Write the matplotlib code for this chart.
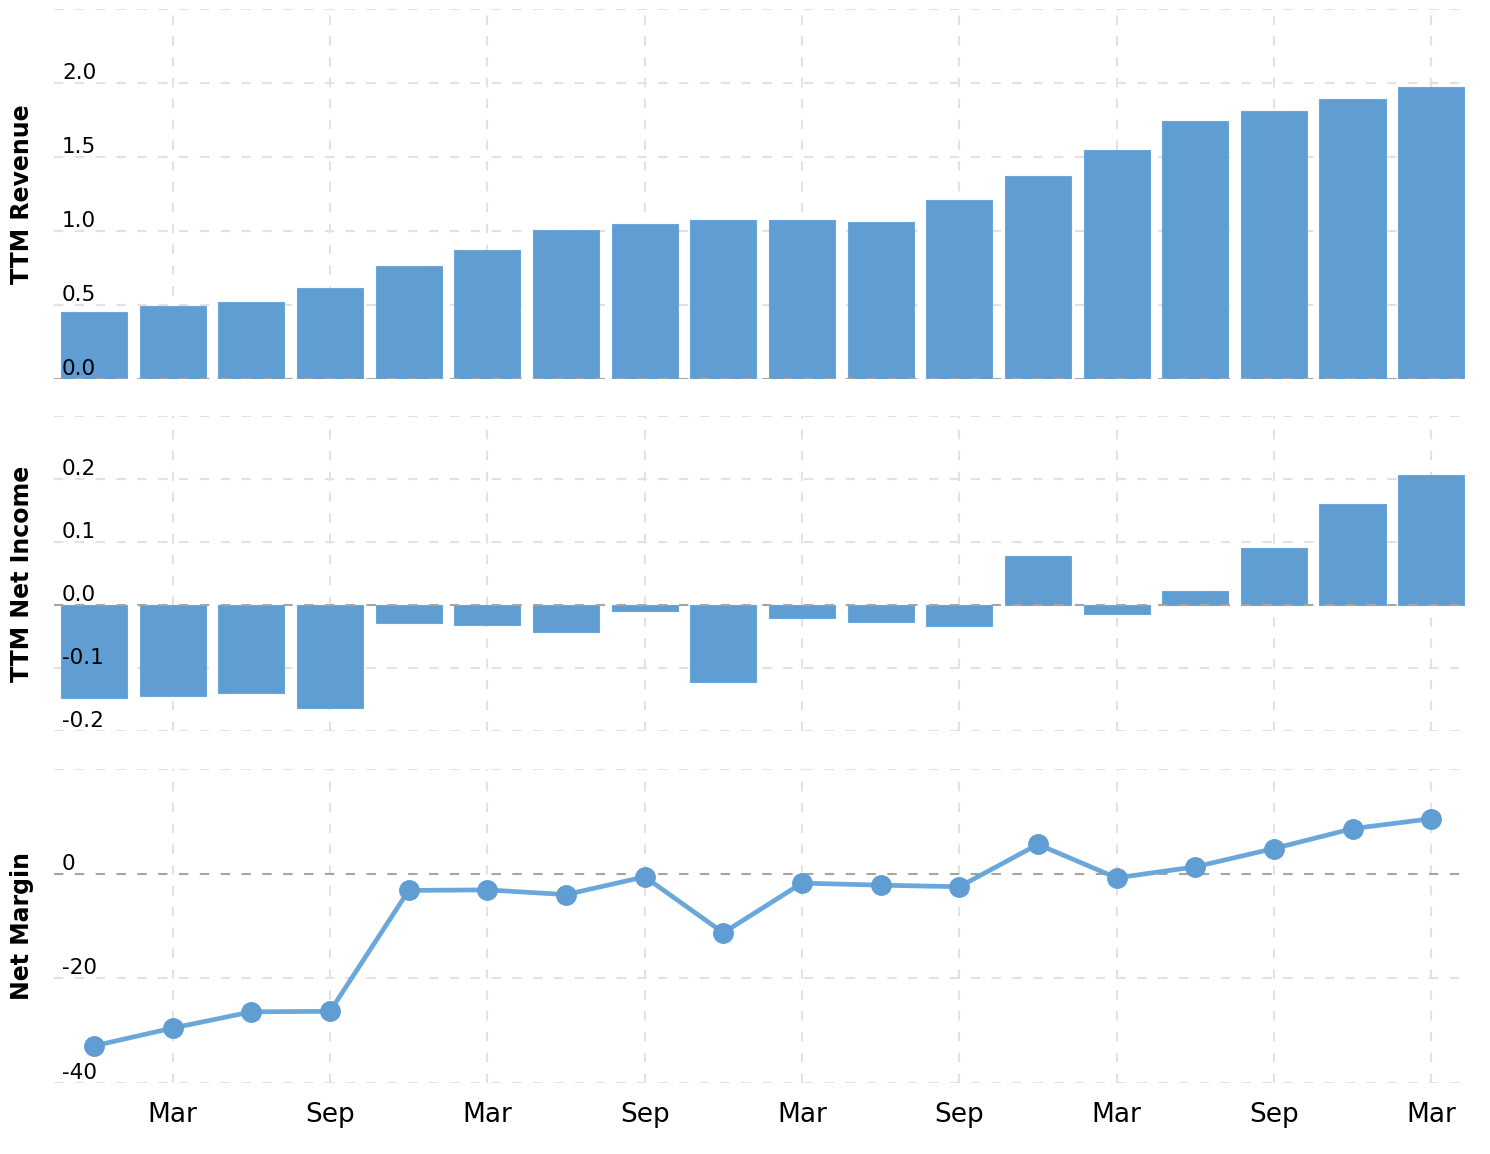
"""Quarterly TTM revenue, net income and net margin (three stacked panels)"""
import matplotlib
matplotlib.use("Agg")
import matplotlib.pyplot as plt
import matplotlib.transforms as mtransforms
import numpy as np

plt.rcParams["font.family"] = ["DejaVu Sans"]

# quarter-end months, Dec ... Mar (18 quarters)
quarters = ["Dec", "Mar", "Jun", "Sep", "Dec", "Mar", "Jun", "Sep", "Dec",
            "Mar", "Jun", "Sep", "Dec", "Mar", "Jun", "Sep", "Dec", "Mar"]
revenue = [0.452, 0.494, 0.519, 0.614, 0.762, 0.870, 1.005, 1.045, 1.072,
           1.072, 1.058, 1.207, 1.369, 1.544, 1.746, 1.814, 1.895, 1.976]
net_income = [-0.148, -0.145, -0.139, -0.163, -0.028, -0.031, -0.043, -0.009,
              -0.122, -0.021, -0.027, -0.034, 0.077, -0.014, 0.023, 0.090,
              0.160, 0.207]
net_margin = [-32.9, -29.5, -26.4, -26.3, -3.2, -3.1, -4.0, -0.6, -11.3,
              -1.8, -2.2, -2.5, 5.6, -0.8, 1.3, 4.8, 8.6, 10.5]

rev_ticks = [0.0, 0.5, 1.0, 1.5, 2.0, 2.5]
rev_labels = ["0.0", "0.5", "1.0", "1.5", "2.0", ""]
ni_ticks = [-0.2, -0.1, 0.0, 0.1, 0.2, 0.3]
ni_labels = ["-0.2", "-0.1", "0.0", "0.1", "0.2", ""]
nm_ticks = [-40, -20, 0, 20]
nm_labels = ["-40", "-20", "0", ""]

BAR = "#609dd3"
LINE = "#6aa7db"
GRID = "#e2e2e2"
ZERO = "#a5a5a5"
DASH = (0, (4.5, 5.5))

x = np.arange(len(quarters))
W, H = 1490, 1154
fig = plt.figure(figsize=(W / 100, H / 100), dpi=100)

left = 54 / W
width = (1465 - 54) / W


def make_ax(top_px, bot_px):
    return fig.add_axes([left, 1 - bot_px / H, width, (bot_px - top_px) / H])


ax1 = make_ax(9, 379)
ax2 = make_ax(416, 731)
ax3 = make_ax(769, 1083)


def style(ax, ticks, labels, ylab):
    ax.set_xlim(-0.51, 17.43)
    ax.set_ylim(ticks[0], ticks[-1])
    for s in ax.spines.values():
        s.set_visible(False)
    ax.set_xticks([])
    ax.set_yticks([])
    # horizontal grid
    for t in ticks:
        col = ZERO if t == 0 else GRID
        ax.axhline(t, color=col, lw=1.5, ls=DASH, zorder=3 if t == 0 else 0)
    # vertical grid at Mar/Sep
    for i in range(1, len(quarters), 2):
        ax.axvline(x[i], color=GRID, lw=1.5, ls=DASH, zorder=0)
    trans = mtransforms.blended_transform_factory(ax.transAxes, ax.transData)
    for t, lab in zip(ticks, labels):
        ax.annotate(lab, (8 / 1411, t), xycoords=trans, xytext=(0, 4),
                    textcoords="offset pixels", ha="left", va="baseline",
                    fontsize=15.5, color="#000000", zorder=5)
    fig.text(22 / W, ax.get_position().y0 + ax.get_position().height / 2,
             ylab, rotation=90, ha="center", va="center",
             fontsize=17, fontweight="bold")


style(ax1, rev_ticks, rev_labels, "TTM Revenue")
ax1.bar(x, revenue, width=0.84, color=BAR, edgecolor="#6aa8dc", lw=0.8, zorder=2)

style(ax2, ni_ticks, ni_labels, "TTM Net Income")
ax2.bar(x, net_income, width=0.84, color=BAR, edgecolor="#6aa8dc", lw=0.8, zorder=2)

style(ax3, nm_ticks, nm_labels, "Net Margin")
ax3.plot(x, net_margin, color=LINE, lw=3.4, marker="o", markersize=14,
         markerfacecolor=BAR, markeredgecolor=BAR, zorder=4)

# x tick labels under bottom panel
xtrans = mtransforms.blended_transform_factory(ax3.transData, ax3.transAxes)
for i in range(1, len(quarters), 2):
    ax3.text(x[i], -0.062, quarters[i], transform=xtrans,
             ha="center", va="top", fontsize=19)

fig.savefig("out.png", dpi=100)
